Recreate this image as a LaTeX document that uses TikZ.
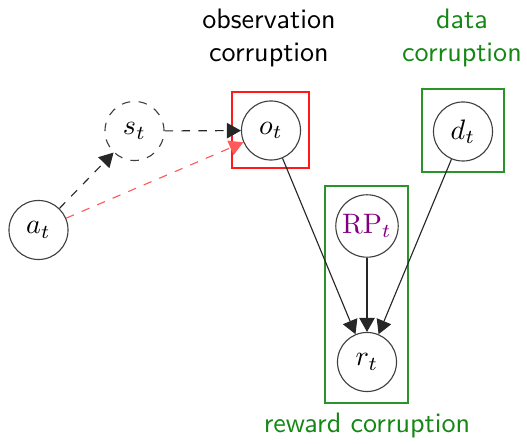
\documentclass[tikz,border=0pt]{standalone}
\usepackage{amsmath}
\usepackage{amssymb}
\usepackage{xcolor}
\usepackage{tikz}
\usetikzlibrary{arrows.meta}

\definecolor{corrgreen}{RGB}{20,135,20}
\definecolor{rpcolor}{RGB}{128,0,128}

\begin{document}
\begin{tikzpicture}[scale=0.5,
    var/.style={circle, draw=black!75, thin, minimum size=21pt, inner sep=1pt},
    latent/.style={var, dashed},
    edge/.style={-{Triangle[length=5pt,width=5.5pt]}, black!85},
    caption/.style={font=\sffamily, align=center}]
  \useasboundingbox (0,0) rectangle (13.175,11.1);
  % variables
  \node[var] (a) at (0.9625,5.35) {$a_t$};
  \node[latent] (s) at (3.3625,7.825) {$s_t$};
  \node[var] (o) at (6.775,7.8375) {$o_t$};
  \node[var] (d) at (11.575,7.8125) {$d_t$};
  \node[var] (rp) at (9.175,5.45) {$\textcolor{rpcolor}{\mathrm{RP}_t}$};
  \node[var] (r) at (9.175,2.05) {$r_t$};
  % corruption boxes
  \draw[red!90, thin] (5.8,6.9) rectangle (7.725,8.8);
  \draw[corrgreen!90, thin] (10.55,6.8) rectangle (12.6,8.875);
  \draw[corrgreen!90, thin] (8.125,1.025) rectangle (10.2,6.45);
  \node[caption] (obslabel) at (6.725,10.15) {observation\\corruption};
  \node[caption, text=corrgreen] (datalabel) at (11.55,10.15) {data\\corruption};
  \node[caption, text=corrgreen, anchor=base] (rewlabel) at (9.175,0.275) {reward corruption};
  % edges
  \draw[edge, dashed] (a) -- (s);
  \draw[edge, dashed] (s) -- (o);
  \draw[edge, dashed, red!65] (a) -- (o);
  \draw[edge] (o) -- (r);
  \draw[edge] (rp) -- (r);
  \draw[edge] (d) -- (r);
\end{tikzpicture}
\end{document}
